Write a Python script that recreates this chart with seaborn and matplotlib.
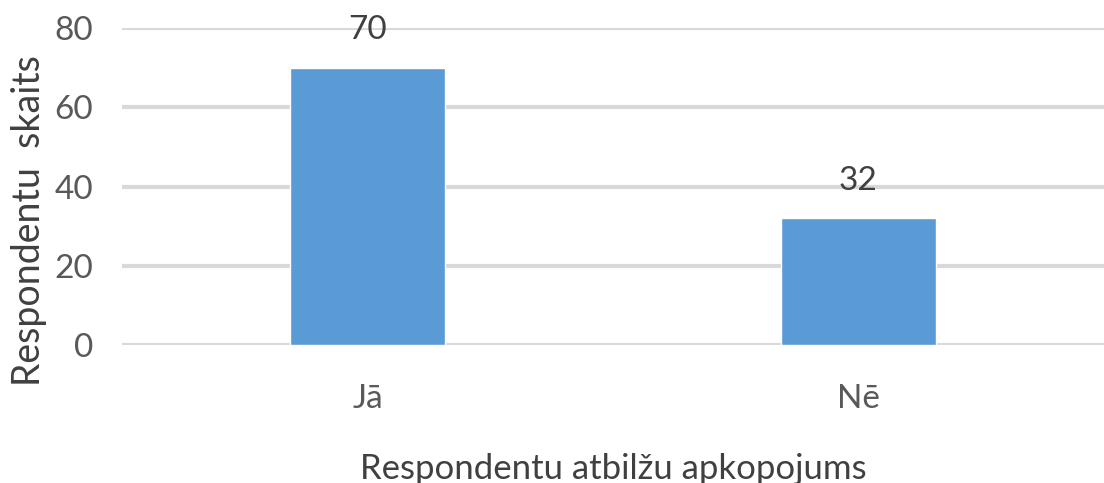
import matplotlib
matplotlib.use("Agg")
import matplotlib.pyplot as plt
import seaborn as sns
import pandas as pd

categories = ["Jā", "Nē"]
values = [70, 32]
y_ticks = [0, 20, 40, 60, 80]

df = pd.DataFrame({"cat": categories, "val": values})

sns.set_theme(style="white")
plt.rcParams["font.family"] = ["Lato", "DejaVu Sans"]

fig = plt.figure(figsize=(11.04, 4.83), dpi=100)
ax = fig.add_axes([0.1105, 0.2857, 0.8895, 0.6563])

sns.barplot(data=df, x="cat", y="val", color="#5B9BD5", width=0.317,
            saturation=1, ax=ax, zorder=3)

ax.set_ylim(0, 80)
ax.set_xlim(-0.5, 1.5)
ax.set_yticks(y_ticks)
ax.yaxis.grid(True, color="#D9D9D9", linewidth=3, zorder=0)
ax.set_axisbelow(True)
for s in ax.spines.values():
    s.set_visible(False)
ax.tick_params(axis="both", length=0, labelsize=24, colors="#595959")
ax.tick_params(axis="y", pad=21)
ax.tick_params(axis="x", pad=28)

for p, v in zip(ax.patches, values):
    ax.annotate(str(v), (p.get_x() + p.get_width() / 2, v), xytext=(0, 16),
                textcoords="offset points", ha="center", va="bottom",
                fontsize=24, color="#404040")

ax.set_xlabel("Respondentu atbilžu apkopojums", fontsize=25, color="#404040", labelpad=28)
ax.set_ylabel("Respondentu  skaits", fontsize=27, color="#404040")
ax.yaxis.set_label_coords(-0.076, 0.394)

fig.savefig("out.png", dpi=100)
